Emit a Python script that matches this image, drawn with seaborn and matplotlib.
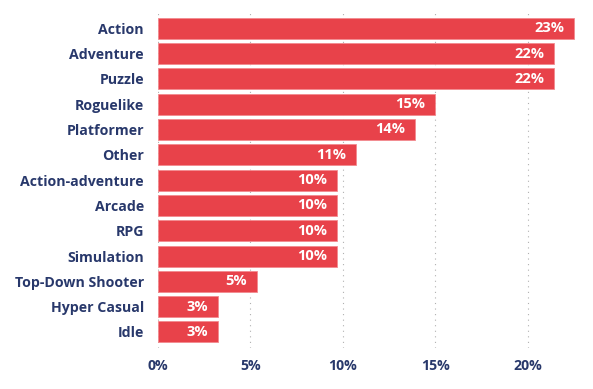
import matplotlib
matplotlib.use('Agg')
import matplotlib.pyplot as plt
import seaborn as sns
import pandas as pd

genres = ['Action', 'Adventure', 'Puzzle', 'Roguelike', 'Platformer', 'Other',
          'Action-adventure', 'Arcade', 'RPG', 'Simulation', 'Top-Down Shooter',
          'Hyper Casual', 'Idle']
share = [22.5, 21.45, 21.45, 15.0, 13.9, 10.7, 9.7, 9.7, 9.7, 9.7, 5.35, 3.25, 3.25]
share_labels = ['23%', '22%', '22%', '15%', '14%', '11%', '10%', '10%', '10%',
                '10%', '5%', '3%', '3%']
xticks = [0, 5, 10, 15, 20]
xtick_labels = ['0%', '5%', '10%', '15%', '20%']

red = '#E8424A'
navy = '#28386B'

sns.set_style('white')
plt.rcParams['font.family'] = ['Open Sans', 'DejaVu Sans']

df = pd.DataFrame({'genre': genres, 'share': share})

fig = plt.figure(figsize=(5.93, 3.89), dpi=100)
ax = fig.add_axes([0.2664, 0.105, 0.7201, 0.864])

sns.barplot(data=df, x='share', y='genre', color=red, width=0.83,
            edgecolor='#F28A8F', linewidth=0.6, saturation=1, ax=ax, zorder=2)

# percentage labels inside bar ends
for i, (v, lab) in enumerate(zip(share, share_labels)):
    ax.annotate(lab, xy=(v, i), xytext=(-7, 0), textcoords='offset points',
                ha='right', va='center', color='white', fontsize=10.5,
                fontweight='bold', zorder=3)

ax.set_xlim(0, 23.1)
ax.set_ylim(12.64, -0.64)
ax.set_xticks(xticks)
ax.set_xticklabels(xtick_labels)
ax.set_xlabel('')
ax.set_ylabel('')

ax.xaxis.grid(True, linestyle=(0, (1, 4)), color='#b0b0b0', linewidth=0.8, zorder=0)
ax.yaxis.grid(False)
ax.set_axisbelow(True)

for s in ax.spines.values():
    s.set_visible(False)

ax.tick_params(axis='both', length=0)
ax.tick_params(axis='y', pad=10)
ax.tick_params(axis='x', pad=8)
for t in ax.get_yticklabels() + ax.get_xticklabels():
    t.set_color(navy)
    t.set_fontweight('bold')
    t.set_fontsize(10.2)

fig.savefig('out.png', dpi=100)
